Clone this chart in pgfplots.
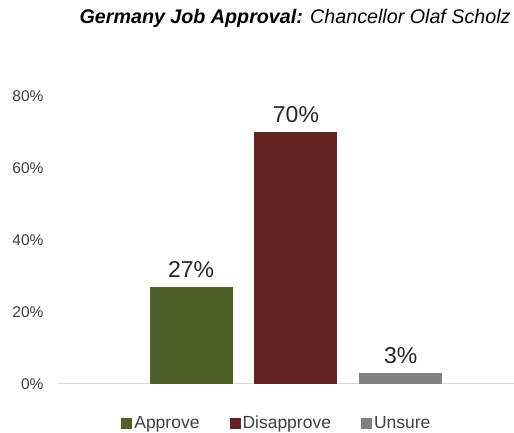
\documentclass[border=0pt]{standalone}
\usepackage{pgfplots}
\pgfplotsset{compat=1.18}
\usepackage{fontspec}
\setmainfont{Liberation Sans}
\definecolor{cgreen}{HTML}{50622A}
\definecolor{cred}{HTML}{632523}
\definecolor{cgray}{HTML}{808080}
\definecolor{ctext}{HTML}{404040}
\definecolor{cline}{HTML}{D9D9D9}
\begin{document}
\begin{tikzpicture}
\begin{axis}[
  scale only axis,
  width=456bp, height=288bp,
  xmin=-1.27, xmax=3.08,
  ymin=0, ymax=80,
  ytick={0,20,40,60,80},
  yticklabel={\pgfmathprintnumber[assume math mode=true]{\tick}\%},
  yticklabel style={font=\fontsize{15.5bp}{17bp}\selectfont, color=ctext, xshift=-11bp},
  xtick=\empty,
  major tick length=0pt,
  separate axis lines,
  axis x line*=bottom,
  axis y line*=left,
  y axis line style={draw=none},
  x axis line style={draw=cline, line width=1pt, -},
  ybar, bar shift=0pt, bar width=83bp,
  nodes near coords={\pgfmathprintnumber[assume math mode=true]{\pgfplotspointmeta}\%},
  nodes near coords style={font=\fontsize{23bp}{26bp}\selectfont, color=black!85, yshift=6bp},
  legend style={at={(axis description cs:0.48,-0.136)}, anchor=center, draw=none, fill=none,
    legend columns=3, font=\fontsize{17.5bp}{20bp}\selectfont, color=ctext,
    /tikz/every even column/.append style={column sep=28bp}},
  legend image code/.code={\fill[#1] (-5bp,-5.5bp) rectangle (6bp,5.5bp);},
  title={\textbf{\textit{Germany Job Approval:}} \textit{Chancellor Olaf Scholz}},
  title style={font=\fontsize{19.7bp}{23bp}\selectfont, at={(axis description cs:0.52,1.0)}, anchor=south, yshift=59bp},
]
\addplot[fill=cgreen, draw=none] coordinates {(0,27)};
\addplot[fill=cred, draw=none] coordinates {(1,70)};
\addplot[fill=cgray, draw=none] coordinates {(2,3)};
\legend{Approve, Disapprove, Unsure}
\end{axis}
\pgfresetboundingbox
\path ([xshift=-58bp,yshift=-49bp]current axis.south west) rectangle ([yshift=96bp]current axis.north east);
\end{tikzpicture}
\end{document}
